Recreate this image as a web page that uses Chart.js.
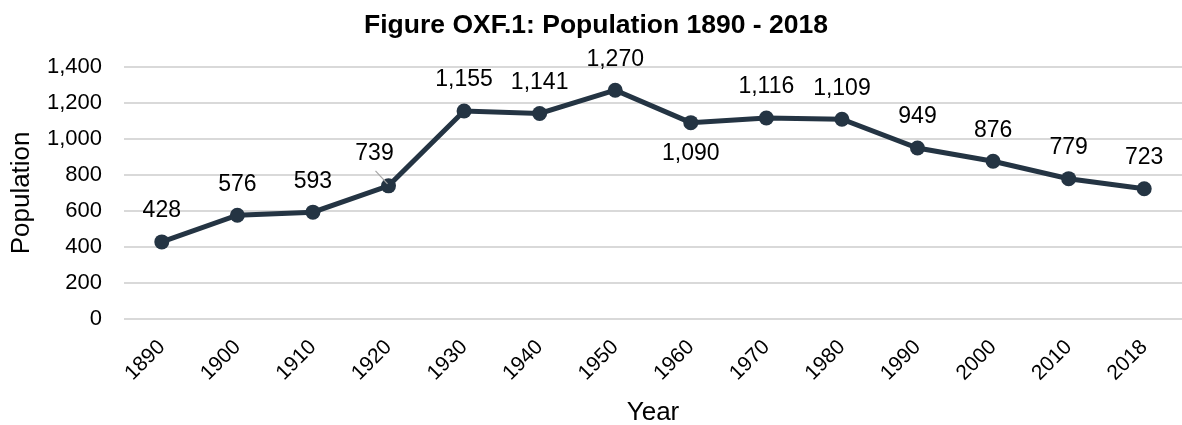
<!DOCTYPE html>
<html>
<head>
<meta charset="utf-8">
<script src="https://cdn.jsdelivr.net/npm/chart.js@4.4.1/dist/chart.umd.min.js"></script>
<style>
  html, body { margin: 0; padding: 0; background: #ffffff; overflow: hidden; }
  #wrap { width: 1182px; height: 425px; }
</style>
</head>
<body>
<div id="wrap"><canvas id="c" width="1182" height="425"></canvas></div>
<script>
const years = ['1890','1900','1910','1920','1930','1940','1950','1960','1970','1980','1990','2000','2010','2018'];
const population = [428, 576, 593, 739, 1155, 1141, 1270, 1090, 1116, 1109, 949, 876, 779, 723];
const yTicks = [0, 200, 400, 600, 800, 1000, 1200, 1400];
const labelBelow = ['1960'];
const labelShifted = ['1920'];

const FONT = '"Liberation Sans", Arial, Helvetica, sans-serif';
const LINE = '#243443';

const fmt = v => Number(v).toLocaleString('en-US');

const labelPlugin = {
  id: 'pointLabels',
  afterDatasetsDraw(chart) {
    const ctx = chart.ctx;
    const meta = chart.getDatasetMeta(0);
    ctx.save();
    ctx.font = '23px ' + FONT;
    ctx.fillStyle = '#000000';
    ctx.textAlign = 'center';
    ctx.textBaseline = 'middle';
    meta.data.forEach((pt, i) => {
      const cat = years[i];
      const txt = fmt(population[i]);
      let x = pt.x, y = pt.y - 31;
      if (labelBelow.includes(cat)) y = pt.y + 31;
      if (labelShifted.includes(cat)) {
        x = pt.x - 14; y = pt.y - 32;
        ctx.strokeStyle = '#a6a6a6';
        ctx.lineWidth = 1.2;
        ctx.beginPath();
        ctx.moveTo(pt.x - 13, pt.y - 15);
        ctx.lineTo(pt.x - 1, pt.y - 2);
        ctx.stroke();
      }
      ctx.fillText(txt, x, y);
    });
    ctx.restore();
  }
};

const noPadding = () => ({ left: 0, top: 0, right: 0, bottom: 0 });

new Chart(document.getElementById('c'), {
  type: 'line',
  data: {
    labels: years,
    datasets: [{
      data: population,
      borderColor: LINE,
      backgroundColor: LINE,
      borderWidth: 5,
      pointRadius: 7.5,
      pointHoverRadius: 7.5,
      pointBackgroundColor: LINE,
      pointBorderColor: LINE,
      pointBorderWidth: 0,
      tension: 0,
      fill: false,
      clip: false
    }]
  },
  options: {
    responsive: false,
    animation: false,
    devicePixelRatio: 1,
    layout: { autoPadding: false, padding: { left: 6, right: -4, top: 0, bottom: -3 } },
    plugins: {
      legend: { display: false },
      tooltip: { enabled: false },
      title: {
        display: true,
        text: 'Figure OXF.1: Population 1890 - 2018',
        color: '#000000',
        font: { family: FONT, size: 26.5, weight: 'bold' },
        padding: { top: 10, bottom: 25 }
      }
    },
    scales: {
      x: {
        offset: true,
        afterFit(scale) {
          scale.paddingLeft = 0; scale.paddingRight = 0;
          scale.getPadding = noPadding;
          scale.height = 109;
        },
        grid: { display: false, drawTicks: false },
        border: { display: false },
        ticks: {
          color: '#000000',
          font: { family: FONT, size: 21 },
          maxRotation: 45,
          minRotation: 45,
          padding: 16,
          autoSkip: false
        },
        title: {
          display: true,
          text: 'Year',
          color: '#000000',
          font: { family: FONT, size: 26 },
          padding: { top: 0, bottom: 0 }
        }
      },
      y: {
        min: 0,
        max: 1400,
        afterBuildTicks(scale) { scale.ticks = yTicks.map(v => ({ value: v })); },
        afterFit(scale) { scale.width = 118; },
        grid: { color: '#d9d9d9', lineWidth: 2, drawTicks: false },
        border: { display: false },
        ticks: {
          color: '#000000',
          font: { family: FONT, size: 22 },
          padding: 22,
          callback: v => fmt(v)
        },
        title: {
          display: true,
          text: 'Population',
          color: '#000000',
          font: { family: FONT, size: 26 },
          padding: { top: 0, bottom: 0 }
        }
      }
    }
  },
  plugins: [labelPlugin]
});
</script>
</body>
</html>
